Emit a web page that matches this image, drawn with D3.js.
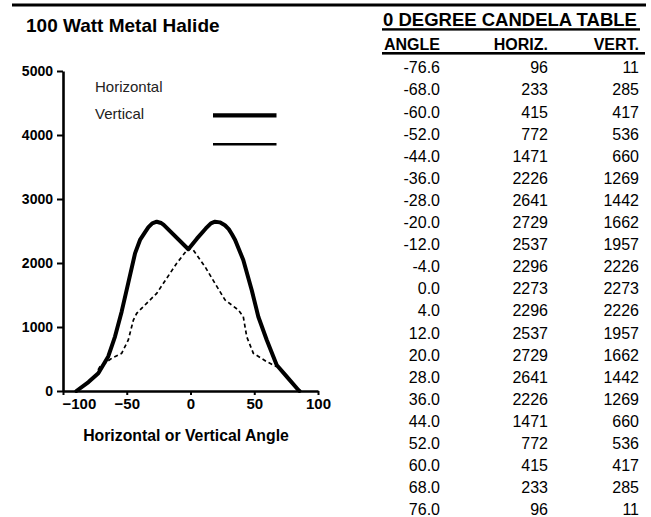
<!DOCTYPE html>
<html>
<head>
<meta charset="utf-8">
<script src="https://cdn.jsdelivr.net/npm/d3@7"></script>
<style>
  html, body { margin: 0; padding: 0; background: #fff; }
  svg { display: block; font-family: "Liberation Sans", Arial, Helvetica, sans-serif; }
</style>
</head>
<body>
<svg id="chart" width="651" height="517"></svg>
<script>
// ---- Table data ----
const tableAngles = ["-76.6","-68.0","-60.0","-52.0","-44.0","-36.0","-28.0","-20.0","-12.0","-4.0","0.0","4.0","12.0","20.0","28.0","36.0","44.0","52.0","60.0","68.0","76.0"];
const tableHoriz = [96,233,415,772,1471,2226,2641,2729,2537,2296,2273,2296,2537,2729,2641,2226,1471,772,415,233,96];
const tableVert  = [11,285,417,536,660,1269,1442,1662,1957,2226,2273,2226,1957,1662,1442,1269,660,536,417,285,11];

// ---- Curves as drawn in the plot ----
const horizAngle = [-89.5,-80,-72.3,-64.5,-59.2,-54,-48.8,-43.5,-39.6,-36,-33,-30,-26.5,-23,-21,-1.7,5,12,16,19.2,23,27,30,32.5,35,41.4,48,53.2,59.8,67.6,75.5,84.6,85.5];
const horizCd    = [0,140,278,540,850,1240,1690,2150,2360,2470,2560,2620,2645,2625,2595,2215,2380,2540,2620,2645,2635,2590,2530,2450,2360,2047,1578,1161,797,406,224,16,0];

const vertAngle = [-72.5,-71,-61.8,-54,-48.8,-44.8,-42.2,-34.4,-26.5,-18.7,-10.8,-1.7,2.2,11.4,19.2,27.1,37.5,41.4,44.1,49.3,59.8,67.6];
const vertCd    = [330,380,511,589,797,1109,1214,1370,1526,1760,1995,2229,2203,1942,1682,1422,1266,1161,849,589,458,380];

const xTicks = [-100,-50,0,50,100];
const yTicks = [0,1000,2000,3000,4000,5000];
const legendLabels = ["Horizontal","Vertical"];

const svg = d3.select("#chart");

// Top rule
svg.append("rect").attr("x",12).attr("y",3.5).attr("width",634).attr("height",3).attr("fill","#000");

// Chart title
svg.append("text").attr("x",26).attr("y",31.5)
  .attr("font-size",19).attr("font-weight","bold").attr("fill","#000")
  .text("100 Watt Metal Halide");

// Scales
const x = d3.scaleLinear().domain([-100,100]).range([63,318]);
const y = d3.scaleLinear().domain([0,5000]).range([391,71]);

// Y axis
const yAxis = svg.append("g").attr("transform","translate(63,0)")
  .call(d3.axisLeft(y).tickValues(yTicks).tickFormat(d3.format("d")).tickSize(6).tickSizeOuter(0).tickPadding(4));
yAxis.select(".domain").attr("stroke","#000").attr("stroke-width",2.6);
yAxis.selectAll(".tick line").attr("stroke","#000").attr("stroke-width",2);
yAxis.selectAll(".tick text").attr("font-size",14).attr("font-weight","bold").attr("fill","#000")
  .attr("font-family","Liberation Sans, Arial, sans-serif");

// X axis
const xAxis = svg.append("g").attr("transform","translate(0,391)")
  .call(d3.axisBottom(x).tickValues(xTicks).tickFormat(d3.format("d")).tickSize(4).tickSizeOuter(0).tickPadding(3));
xAxis.select(".domain").attr("stroke","#000").attr("stroke-width",2.4);
xAxis.selectAll(".tick line").attr("stroke","#000").attr("stroke-width",2);
xAxis.selectAll(".tick text").attr("font-size",15).attr("font-weight","bold").attr("fill","#000")
  .attr("font-family","Liberation Sans, Arial, sans-serif");
xAxis.selectAll(".tick text").filter(d => d === -100).attr("text-anchor","start").attr("dx",-1);

// X axis title
svg.append("text").attr("x",186).attr("y",441).attr("text-anchor","middle")
  .attr("font-size",15.8).attr("font-weight","bold").attr("fill","#000")
  .text("Horizontal or Vertical Angle");

// Curves
const line = d3.line().x(d => x(d[0])).y(d => y(d[1]));
const hData = horizAngle.map((a,i) => [a, horizCd[i]]);
const vData = vertAngle.map((a,i) => [a, vertCd[i]]);

svg.append("path").datum(vData).attr("d",line)
  .attr("fill","none").attr("stroke","#000").attr("stroke-width",1.7)
  .attr("stroke-dasharray","4,3");
svg.append("path").datum(hData).attr("d",line)
  .attr("fill","none").attr("stroke","#000").attr("stroke-width",4)
  .attr("stroke-linejoin","round").attr("stroke-linecap","round");

// Legend
const legendY = [91.5, 119];
const legendSwatchY = [115.3, 144.3];
const legendWidths = [4.2, 2.4];
legendLabels.forEach((lab,i) => {
  svg.append("text").attr("x",95).attr("y",legendY[i])
    .attr("font-size",15).attr("fill","#222").text(lab);
  svg.append("line").attr("x1",213).attr("x2",276.5)
    .attr("y1",legendSwatchY[i]).attr("y2",legendSwatchY[i])
    .attr("stroke","#000").attr("stroke-width",legendWidths[i]);
});

// Table
svg.append("text").attr("x",383).attr("y",26)
  .attr("font-size",18.5).attr("font-weight","bold").attr("fill","#000")
  .text("0 DEGREE CANDELA TABLE");
svg.append("rect").attr("x",382).attr("y",28.2).attr("width",258).attr("height",2.4).attr("fill","#000");

const colX = [440, 548, 639];
const headers = ["ANGLE","HORIZ.","VERT."];
headers.forEach((h,i) => {
  svg.append("text").attr("x",colX[i]).attr("y",50).attr("text-anchor","end")
    .attr("font-size",16).attr("font-weight","bold").attr("fill","#000").text(h);
});
svg.append("rect").attr("x",382).attr("y",52).attr("width",263).attr("height",2.6).attr("fill","#000");

const rowY = d3.scaleLinear().domain([0, tableAngles.length-1]).range([73.3, 515.3]);
const rows = svg.append("g").selectAll("g").data(tableAngles).join("g");
rows.append("text").attr("x",colX[0]).attr("y",(d,i)=>rowY(i)).attr("text-anchor","end")
  .attr("font-size",16).attr("fill","#000").text(d => d);
rows.append("text").attr("x",colX[1]).attr("y",(d,i)=>rowY(i)).attr("text-anchor","end")
  .attr("font-size",16).attr("fill","#000").text((d,i) => tableHoriz[i]);
rows.append("text").attr("x",colX[2]).attr("y",(d,i)=>rowY(i)).attr("text-anchor","end")
  .attr("font-size",16).attr("fill","#000").text((d,i) => tableVert[i]);
</script>
</body>
</html>
